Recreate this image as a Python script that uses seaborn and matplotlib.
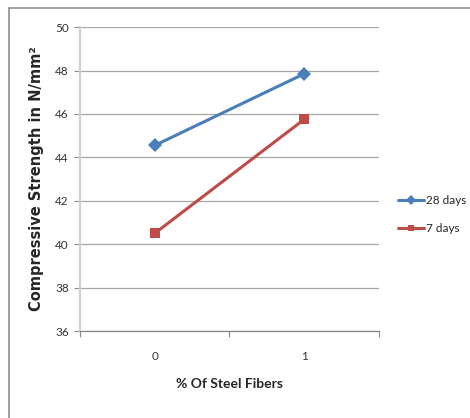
import matplotlib
matplotlib.use("Agg")
import matplotlib.pyplot as plt
import seaborn as sns
import pandas as pd
from matplotlib.patches import Rectangle

fibers = [0, 1]
tick_labels = ["0", "1"]
strength_28 = [44.55, 47.85]
strength_7 = [40.5, 45.75]
series = ["28 days", "7 days"]

df = pd.DataFrame({
    "fiber": fibers + fibers,
    "strength": strength_28 + strength_7,
    "series": [series[0]] * 2 + [series[1]] * 2,
})

sns.set_theme(style="white")
plt.rcParams['font.family'] = ['Lato', 'DejaVu Sans']

fig = plt.figure(figsize=(4.70, 4.18), dpi=100)
ax = fig.add_axes([0.170, 0.208, 0.636, 0.727])

palette = {"28 days": "#4a7ebb", "7 days": "#be4b48"}
markers = {"28 days": "D", "7 days": "s"}
sns.lineplot(data=df, x="fiber", y="strength", hue="series", style="series",
             palette=palette, markers=markers, dashes=False, linewidth=2.2,
             markersize=7, markeredgewidth=0, ax=ax)

ax.set_xlim(-0.5, 1.5)
ax.set_ylim(36, 50)
ax.set_yticks(range(36, 51, 2))
ax.set_xticks([-0.5, 0.5, 1.5])
ax.set_xticklabels([])
ax.set_xticks(fibers, minor=True)
ax.set_xticklabels(tick_labels, minor=True)
ax.tick_params(axis="x", which="major", length=4, color="#888888", width=0.8, direction="out", bottom=True)
ax.tick_params(axis="x", which="minor", length=0, labelsize=8.5, colors="#333333", pad=14)
ax.tick_params(axis="y", length=4, color="#888888", width=0.8, direction="out", left=True, labelsize=8.5, colors="#333333", pad=4)

ax.yaxis.grid(True, color="#a6a6a6", linewidth=0.9)
ax.set_axisbelow(True)
for s in ["top", "right"]:
    ax.spines[s].set_visible(False)
ax.spines["left"].set_color("#d0d0d0")
ax.spines["left"].set_linewidth(1.5)
ax.spines["bottom"].set_color("#888888")
ax.spines["bottom"].set_linewidth(0.9)

ax.set_xlabel("% Of Steel Fibers", fontsize=10, fontweight="bold", labelpad=12)
ax.set_ylabel("Compressive Strength in N/mm²", fontsize=10.5, fontweight="bold",
              labelpad=8, family=["DejaVu Sans"])

handles, labels = ax.get_legend_handles_labels()
ax.legend(handles, labels, loc="center left", bbox_to_anchor=(0.847, 0.486),
          bbox_transform=fig.transFigure, frameon=False, fontsize=8.5,
          handlelength=2.2, handletextpad=0.15, labelspacing=1.45, borderpad=0,
          borderaxespad=0, markerscale=0.7)

fig.patches.append(Rectangle((9 / 470, -0.1), 1.2, 1 - 8 / 418 + 0.1,
                             transform=fig.transFigure, fill=False,
                             edgecolor="#8c8c8c", linewidth=1.2))

fig.savefig("out.png", dpi=100)
